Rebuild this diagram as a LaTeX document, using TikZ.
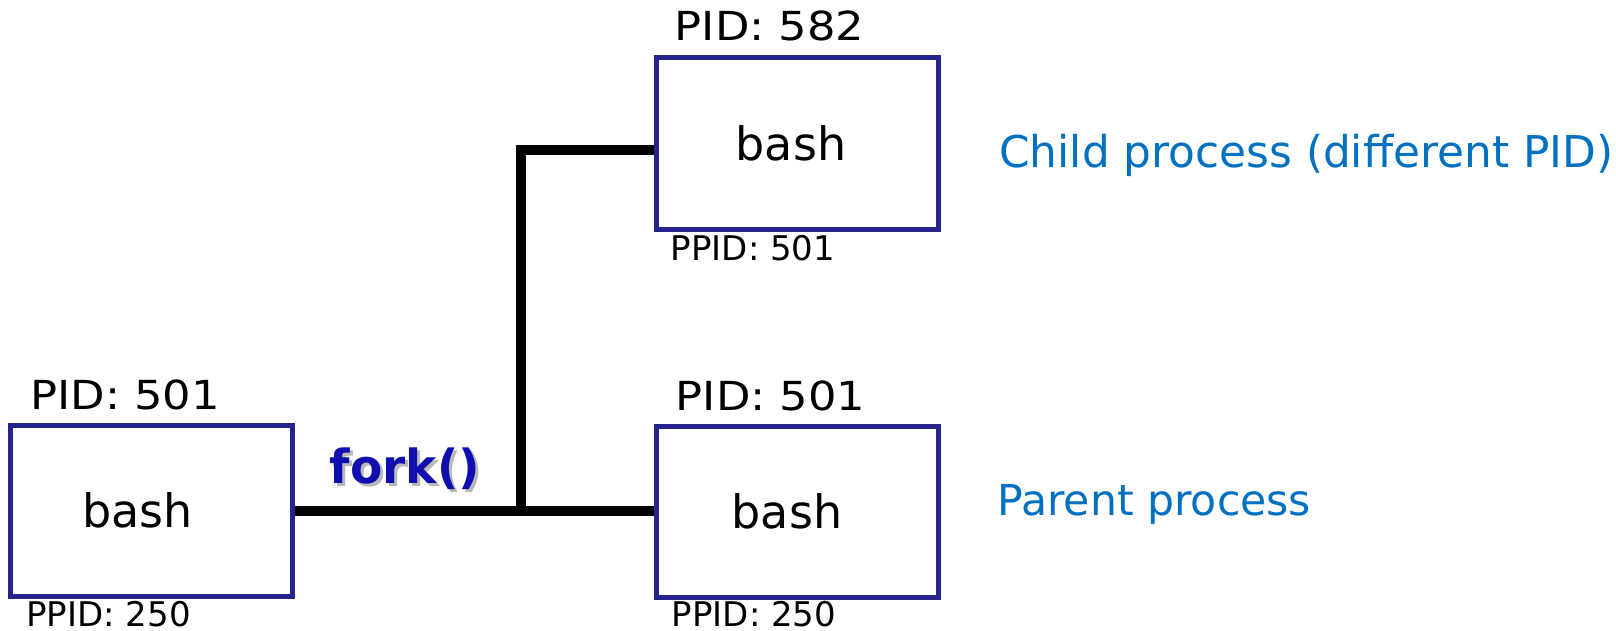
\documentclass[tikz,border=0pt]{standalone}
\usepackage{fontspec}
\setmainfont{DejaVu Sans}
\newfontfamily\pidfont[FakeStretch=1.12]{DejaVu Sans}
\usepackage{tikz}
\usetikzlibrary{positioning,calc}
\usepackage{xcolor}
\definecolor{boxblue}{RGB}{37,35,140}
\definecolor{noteblue}{RGB}{0,112,192}
\definecolor{forkblue}{RGB}{15,15,175}

\tikzset{
  procbox/.style={draw=boxblue, line width=2.5pt, fill=white, minimum width=141pt,
    minimum height=85.5pt, inner sep=0pt, font=\fontsize{23}{27}\selectfont},
  pidlabel/.style={anchor=base west, inner sep=0pt, font=\pidfont\fontsize{20}{24}\selectfont},
  ppidlabel/.style={anchor=base west, inner sep=0pt, font=\fontsize{17}{20}\selectfont},
  note/.style={anchor=base west, inner sep=0pt, text=noteblue},
  forkline/.style={line width=5pt}
}

\begin{document}
\begin{tikzpicture}[x=0.5pt, y=-0.5pt]
            \useasboundingbox (0,0) rectangle (1616,631);

            % --- Processes ---
            \node[procbox] (bashold) at (151.5,510.5) {\hspace*{-14pt}bash};
            \node[procbox] (bashchild) at (797,143.5) {\hspace*{-6pt}bash};
            \node[procbox] (bashparent) at (797,511.5) {\hspace*{-10pt}bash};

            \node[pidlabel] (pidold) at ($(bashold.north west)+(22,-13)$) {PID: 501};
            \node[pidlabel] (pidchild) at ($(bashchild.north west)+(21,-15)$) {PID: 582};
            \node[pidlabel] (pidparent) at ($(bashparent.north west)+(22,-13)$) {PID: 501};

            \node[ppidlabel] (ppidold) at ($(bashold.south west)+(18,28)$) {PPID: 250};
            \node[ppidlabel] (ppidchild) at ($(bashchild.south west)+(17,29)$) {PPID: 501};
            \node[ppidlabel] (ppidparent) at ($(bashparent.south west)+(18,27)$) {PPID: 250};

            % Fork lines
            \coordinate (split) at (521,510.5);
            \draw[forkline] (bashold.east) -- (bashparent.west |- bashold.east);
            \draw[forkline] (split) |- ($(bashchild.west)+(0,6)$);

            % fork() label
            \node[anchor=base, inner sep=0pt, text=gray!55, font=\fontsize{23.5}{28}\selectfont\bfseries]
                (forkshadow) at (408,486) {fork()};
            \node[anchor=base, inner sep=0pt, text=forkblue, font=\fontsize{23.5}{28}\selectfont\bfseries]
                (forklabel) at (405,483) {fork()};

            % Notes
            \node[note, font=\fontsize{21.9}{26}\selectfont] (childnote) at (999,167) {Child process (different PID)};
            \node[note, font=\fontsize{21.3}{25}\selectfont] (parentnote) at (997,515) {Parent process};
\end{tikzpicture}
\end{document}
